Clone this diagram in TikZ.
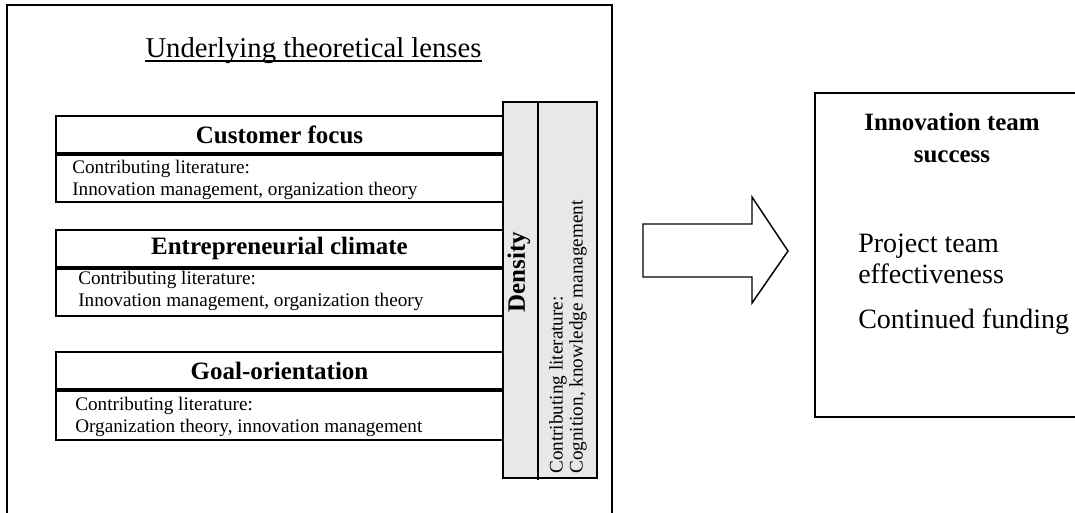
\documentclass[tikz,border=0pt]{standalone}
\usepackage{fontspec}
\setmainfont{Liberation Serif}
\usetikzlibrary{positioning}
\definecolor{densityfill}{HTML}{E8E8E8}

\begin{document}
\begin{tikzpicture}[x=0.75pt,y=-0.75pt]
\tikzstyle{frame}=[draw, line width=1.5pt]
\tikzstyle{lenshead}=[draw, line width=1.5pt, rectangle, minimum width=335.25pt, minimum height=27.75pt, inner sep=0pt, font=\fontsize{18.75}{22}\selectfont\bfseries]
\tikzstyle{lenslit}=[draw, line width=1.5pt, rectangle, minimum width=335.25pt, minimum height=35.25pt, inner sep=0pt]
\tikzstyle{littext}=[align=left, inner sep=0pt, font=\fontsize{14.4}{16.5}\selectfont]
\tikzstyle{densbox}=[draw, line width=1.5pt, fill=densityfill, rectangle, minimum width=70.5pt, minimum height=282pt, inner sep=0pt]
\tikzstyle{outcome}=[inner sep=0pt, font=\fontsize{21}{23}\selectfont]

\useasboundingbox (0,0) rectangle (1075,512);
\clip (0,0) rectangle (1075,512);

% Outer frame and title
\draw[frame] (7,5) rectangle (612,530);
\node[anchor=base, inner sep=0pt, font=\fontsize{21.5}{24}\selectfont] (title) at (313.5,57) {Underlying theoretical lenses};
\draw[line width=1.2pt] ([yshift=-3pt]title.base west) -- ([yshift=-3pt]title.base east);

% Lenses
\node[lenshead, anchor=north west] (custhead) at (55,115) {Customer focus};
\node[lenslit, below=0pt of custhead] (custlit) {};
\node[littext, anchor=south west] (custtext) at (72,200) {Contributing literature:\\Innovation management, organization theory};

\node[lenshead, anchor=north west] (entrhead) at (55,229) {Entrepreneurial climate};
\node[lenslit, below=0pt of entrhead] (entrlit) {};
\node[littext, anchor=south west] (entrtext) at (78,311) {Contributing literature:\\Innovation management, organization theory};

\node[lenshead, anchor=north west] (goalhead) at (55,351) {Goal-orientation};
\node[lenslit, minimum height=36.75pt, below=0pt of goalhead] (goallit) {};
\node[littext, anchor=south west] (goaltext) at (75,437) {Contributing literature:\\Organization theory, innovation management};

% Density column
\node[densbox, anchor=north west] (density) at (502,101) {};
\draw[line width=1.5pt] ([xshift=27pt]density.north west) -- ([xshift=27pt,yshift=-284pt]density.north west);
\node[rotate=90, inner sep=0pt, font=\fontsize{18.75}{22}\selectfont\bfseries] (denslabel) at (519,272) {Density};
\node[littext, rotate=90, anchor=north west, font=\fontsize{14.4}{15}\selectfont] (denstext) at (549,474) {Contributing literature:\\Cognition, knowledge management};

% Big arrow
\draw[line width=1.1pt] (643,224) -- (752,224) -- (752,197) -- (788,251) -- (752,303) -- (752,277) -- (643,277) -- cycle;

% Outcome box
\draw[frame] (815,93) rectangle (1100,417);
\node[align=center, inner sep=0pt, font=\fontsize{18.7}{24}\selectfont\bfseries] (success) at (952,138) {Innovation team\\success};
\node[outcome, align=left, anchor=north west] (effect) at (858,234) {Project team\\effectiveness};
\node[outcome, anchor=base west] (funding) at (858,328) {Continued funding};
\end{tikzpicture}
\end{document}
